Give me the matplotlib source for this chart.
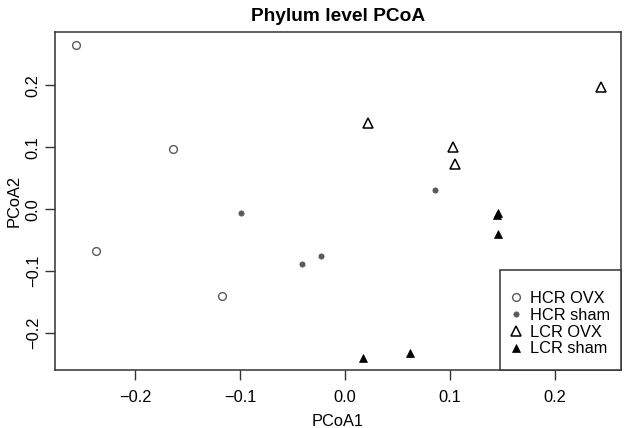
import matplotlib
matplotlib.use("Agg")
import matplotlib.pyplot as plt
from matplotlib.patches import Rectangle

plt.rcParams['font.family'] = ['Liberation Sans', 'DejaVu Sans']

hcr_ovx_x = [-0.256, -0.164, -0.237, -0.117]
hcr_ovx_y = [0.266, 0.097, -0.068, -0.140]

hcr_sham_x = [-0.0995, -0.0405, -0.0225, 0.0855]
hcr_sham_y = [-0.007, -0.088, -0.075, 0.031]

lcr_ovx_x = [0.0215, 0.1032, 0.1048, 0.244]
lcr_ovx_y = [0.139, 0.101, 0.073, 0.197]

lcr_sham_x = [0.1448, 0.1456, 0.1462, 0.017, 0.0616]
lcr_sham_y = [-0.010, -0.007, -0.040, -0.241, -0.232]

title = "Phylum level PCoA"
xlabel = "PCoA1"
ylabel = "PCoA2"
xticks = [-0.2, -0.1, 0.0, 0.1, 0.2]
yticks = [-0.2, -0.1, 0.0, 0.1, 0.2]
legend_labels = ["HCR OVX", "HCR sham", "LCR OVX", "LCR sham"]

W, H = 625, 428
L, R, T, B = 55.3, 620.7, 31.7, 369.6
fig = plt.figure(figsize=(W/100, H/100), dpi=100)
ax = fig.add_axes([L/W, 1-B/H, (R-L)/W, (B-T)/H])

gray = '#5a5a5a'
h1, = ax.plot(hcr_ovx_x, hcr_ovx_y, 'o', ms=5.6, mfc='white', mec=gray, mew=1.0, linestyle='none')
h2, = ax.plot(hcr_sham_x, hcr_sham_y, 'o', ms=3.8, mfc=gray, mec=gray, mew=0.5, linestyle='none')
h3, = ax.plot(lcr_ovx_x, lcr_ovx_y, '^', ms=7.0, mfc='white', mec='black', mew=1.1, linestyle='none')
h4, = ax.plot(lcr_sham_x, lcr_sham_y, '^', ms=6.0, mfc='black', mec='black', mew=0.5, linestyle='none')

ax.set_xlim(-0.2759, 0.2626)
ax.set_ylim(-0.2594, 0.2869)
ax.set_xticks(xticks)
ax.set_xticklabels([f"{t:.1f}".replace('-', '\u2212') for t in xticks])
ax.set_yticks(yticks)
ax.set_yticklabels([f"{t:.1f}".replace('-', '\u2212') for t in yticks], rotation=90, va='center')

for s in ax.spines.values():
    s.set_color('#333333')
    s.set_linewidth(1.1)
ax.tick_params(direction='out', length=7, width=1.0, color='#333333', labelsize=11.8)
ax.tick_params(axis='x', pad=8)
ax.tick_params(axis='y', pad=3.5)

ax.set_title(title, fontsize=13.8, fontweight='bold', pad=8)
ax.set_xlabel(xlabel, fontsize=11.8, labelpad=6)
ax.set_ylabel(ylabel, fontsize=11.8, labelpad=3)

leg = ax.legend([h1, h2, h3, h4], legend_labels, loc='lower right', fontsize=11.8,
                frameon=False, borderaxespad=0, handlelength=0.8,
                handletextpad=0.5, borderpad=0.8, labelspacing=0.12,
                bbox_to_anchor=(1.0 + 3/(R-L), 0.0))

box_x0 = (500 - L) / (R - L)
box_y1 = (B - 270) / (B - T)
ax.add_patch(Rectangle((box_x0, 0), 1 - box_x0, box_y1, transform=ax.transAxes,
                       facecolor='white', edgecolor='#333333', linewidth=1.1,
                       zorder=4, clip_on=False))
leg.set_zorder(5)

fig.savefig("out.png", dpi=100)
